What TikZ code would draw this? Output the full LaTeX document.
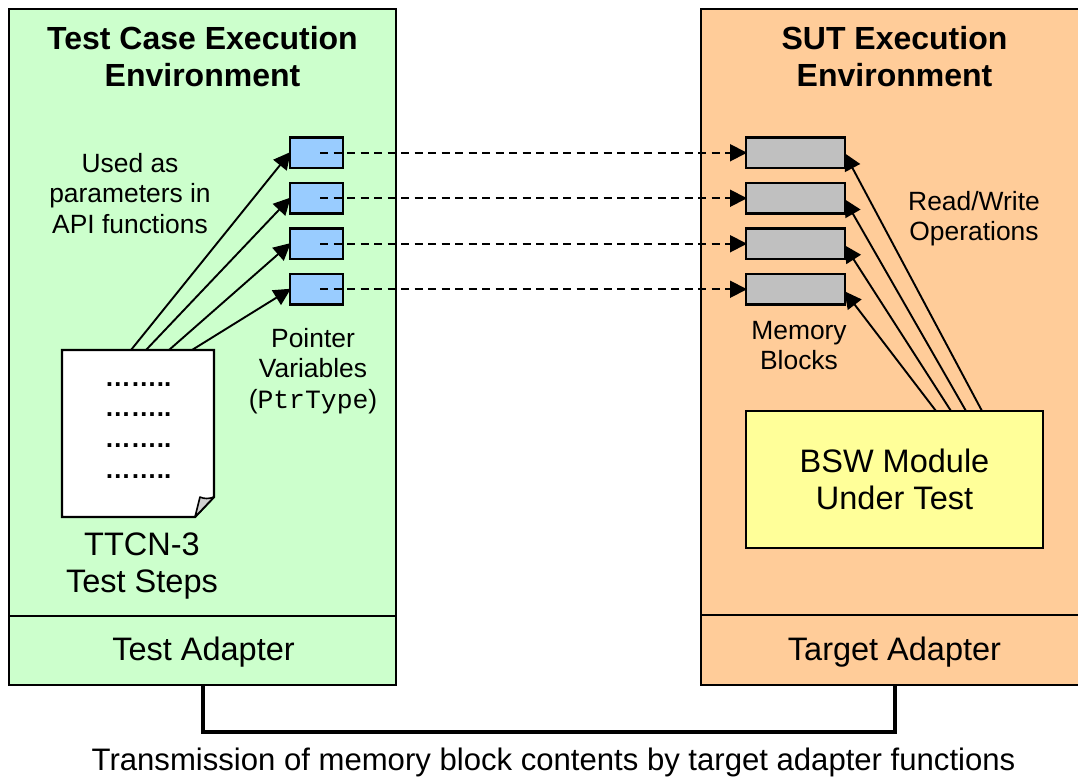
\documentclass[tikz,border=0pt]{standalone}
\usepackage{fontspec}
\setmainfont{Liberation Sans}
\setmonofont{Liberation Mono}
\usetikzlibrary{arrows.meta}
\definecolor{envgreen}{HTML}{CCFFCC}
\definecolor{envorange}{HTML}{FFCC99}
\definecolor{ptrblue}{HTML}{99CCFF}
\definecolor{memgrey}{HTML}{C0C0C0}
\definecolor{modyellow}{HTML}{FFFF99}
\tikzset{
  x=1pt,y=-1pt,
  boxline/.style={draw=black,line width=2.2pt,inner sep=0pt,outer sep=0pt},
  ptrbox/.style={boxline,fill=ptrblue,minimum width=53pt,minimum height=30.5pt,anchor=north west},
  membox/.style={boxline,fill=memgrey,minimum width=99pt,minimum height=30.5pt,anchor=north west},
  titletext/.style={font=\fontsize{32}{37}\selectfont\bfseries,align=center,inner sep=0pt},
  bigtext/.style={font=\fontsize{32.5}{37.5}\selectfont,align=center,inner sep=0pt},
  smalltext/.style={font=\fontsize{26.4}{30.5}\selectfont,align=center,inner sep=0pt},
  dotline/.style={font=\fontsize{26}{26}\selectfont\bfseries,inner sep=0pt},
  pointer/.style={line width=1.9pt,-{Triangle[length=17pt,width=17pt]},shorten >=-1pt},
  dashlink/.style={pointer,dash pattern=on 8pt off 5.5pt},
  linkline/.style={line width=4pt,line cap=butt,line join=miter},
}
\begin{document}
\begin{tikzpicture}
\useasboundingbox (0,0) rectangle (1078,776);
% environments
\path[boxline,fill=envgreen] (9,9) rectangle (396,685);
\path[boxline,fill=envorange] (701,9) rectangle (1085,685);
\clip (0,0) rectangle (1078,776);
\draw[line width=2.2pt] (9,616) -- (396,616);
\draw[line width=2.2pt] (701,615) -- (1085,615);
\coordinate (tabot) at (203,685);
\coordinate (sabot) at (895,685);
\coordinate (linka) at (203,732);
\coordinate (linkb) at (895,732);
\node[titletext] (t1) at (202.5,57) {Test Case Execution\\Environment};
\node[titletext] (t2) at (894.5,57) {SUT Execution\\Environment};
\node[bigtext] (ta) at (203.5,652.5) {Test Adapter};
\node[bigtext] (sa) at (894.5,652.5) {Target Adapter};
% pointer boxes
\node[ptrbox] (p1) at (290,137.5) {};
\node[ptrbox] (p2) at (290,183) {};
\node[ptrbox] (p3) at (290,228.5) {};
\node[ptrbox] (p4) at (290,274) {};
% memory blocks
\node[membox] (m1) at (746,137.5) {};
\node[membox] (m2) at (746,183) {};
\node[membox] (m3) at (746,228.5) {};
\node[membox] (m4) at (746,274) {};
% document
\draw[boxline,fill=white] (62,350) -- (214,350) -- (214,497) -- (195,517) -- (62,517) -- cycle;
\draw[line width=1.6pt,fill=black!18,line join=round] (195,517) -- (200,497) .. controls (204,499) and (209,499) .. (214,497) -- cycle;
\node[dotline,anchor=base] (d1) at (138,386) {……..};
\node[dotline,anchor=base] (d2) at (138,416) {……..};
\node[dotline,anchor=base] (d3) at (138,447) {……..};
\node[dotline,anchor=base] (d4) at (138,478) {……..};
\coordinate (ds1) at (131,350);
\coordinate (ds2) at (146,350);
\coordinate (ds3) at (169,350);
\coordinate (ds4) at (192,350);
\draw[pointer] (ds1) -- (p1.west);
\draw[pointer] (ds2) -- (p2.west);
\draw[pointer] (ds3) -- (p3.west);
\draw[pointer] (ds4) -- (p4.west);
% dashed
\foreach \i in {1,2,3,4}{
  \coordinate (ps\i) at ([xshift=-23pt]p\i.east);
  \draw[dashlink] (ps\i) -- (m\i.west);
}
% module
\node[boxline,fill=modyellow,anchor=north west,minimum width=297pt,minimum height=137pt,bigtext] (bsw) at (746,411) {BSW Module\\Under Test};
\coordinate (bs1) at (982,411);
\coordinate (bs2) at (966,411);
\coordinate (bs3) at (951,411);
\coordinate (bs4) at (936,411);
\coordinate (me1) at (845,154);
\coordinate (me2) at (845,200);
\coordinate (me3) at (845,246);
\coordinate (me4) at (845,292);
\foreach \i in {1,2,3,4}{ \draw[pointer] (bs\i) -- (me\i); }
% labels
\node[smalltext] (l1) at (130,193.5) {Used as\\parameters in\\API functions};
\node[smalltext] (l2) at (313,371) {Pointer\\Variables\\(\texttt{PtrType})};
\node[smalltext] (l3) at (799,345.5) {Memory\\Blocks};
\node[smalltext] (l4) at (974,218.5) {Read/Write\\Operations};
\node[bigtext] (l5) at (142,566) {TTCN-3\\Test Steps};
\node[bigtext,font=\fontsize{31.1}{36}\selectfont] (l6) at (553.5,762.5) {Transmission of memory block contents by target adapter functions};
% bottom link
\draw[linkline] (tabot) -- (linka) -- (linkb) -- (sabot);
\end{tikzpicture}
\end{document}
